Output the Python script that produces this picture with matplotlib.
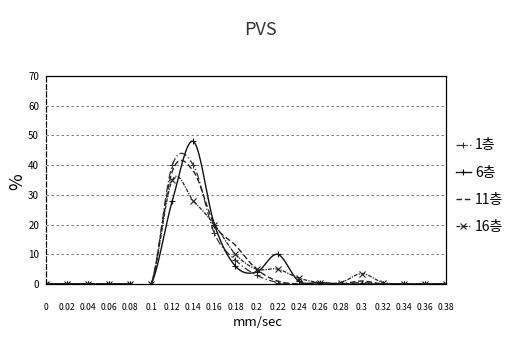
import numpy as np
import matplotlib
matplotlib.use("Agg")
import matplotlib.pyplot as plt

plt.rcParams['font.family'] = ['Noto Sans CJK KR', 'DejaVu Sans']

categories = ["0", "0.02", "0.04", "0.06", "0.08", "0.1", "0.12", "0.14", "0.16", "0.18",
              "0.2", "0.22", "0.24", "0.26", "0.28", "0.3", "0.32", "0.34", "0.36", "0.38"]
floor1 = [0, 0, 0, 0, 0, 0, 40, 40, 17, 8, 3, 0.5, 0, 0, 0, 0.5, 0, 0, 0, 0]
floor6 = [0, 0, 0, 0, 0, 0, 28, 48, 20, 6, 4, 10, 1, 0.5, 0, 0, 0, 0, 0, 0]
floor11 = [0, 0, 0, 0, 0, 0, 38, 38, 20, 13, 5, 1, 0, 0, 0, 1, 0, 0, 0, 0]
floor16 = [0, 0, 0, 0, 0, 0, 35, 28, 20, 10, 5, 5, 2, 0.5, 0.5, 3.5, 0.5, 0, 0, 0]
series_names = ["1층", "6층", "11층", "16층"]
yticks = [0, 10, 20, 30, 40, 50, 60, 70]

N = 12


def smooth(y):
    y = np.asarray(y, float)
    p = np.concatenate([[y[0]], y, [y[-1]]])
    xs, ys = [], []
    for i in range(len(y) - 1):
        p0, p1, p2, p3 = p[i], p[i + 1], p[i + 2], p[i + 3]
        t = np.linspace(0, 1, N, endpoint=False)
        yy = 0.5 * ((2 * p1) + (-p0 + p2) * t + (2 * p0 - 5 * p1 + 4 * p2 - p3) * t ** 2
                    + (-p0 + 3 * p1 - 3 * p2 + p3) * t ** 3)
        xs.append(i + t)
        ys.append(yy)
    xs.append([len(y) - 1])
    ys.append([y[-1]])
    return np.concatenate(xs), np.concatenate(ys)


fig = plt.figure(figsize=(5.19, 3.47), dpi=100)
ax = fig.add_axes([46 / 519, 1 - 284 / 347, 400 / 519, 208 / 347])

styles = [
    dict(color="#333333", ls=(0, (6, 2, 1, 2)), lw=0.9, marker="+", ms=5),
    dict(color="#111111", ls="-", lw=1.0, marker="+", ms=5),
    dict(color="#222222", ls=(0, (4, 2)), lw=1.0, marker=None),
    dict(color="#222222", ls=(0, (3, 1, 1, 1)), lw=0.9, marker="x", ms=4),
]
data = [floor1, floor6, floor11, floor16]
for vals, name, st in zip(data, series_names, styles):
    xs, ys = smooth(vals)
    ax.plot(xs, ys, color=st["color"], ls=st["ls"], lw=st["lw"],
            marker=st["marker"], ms=st.get("ms", 4), markevery=slice(0, None, N),
            mew=0.8, label=name)

ax.set_xlim(0, len(categories) - 1)
ax.set_ylim(0, 70)
ax.set_yticks(yticks)
ax.set_yticklabels([str(v) for v in yticks], fontsize=7)
ax.set_xticks(range(len(categories)))
ax.set_xticklabels(categories, fontsize=6.2)
ax.tick_params(axis="x", length=0, pad=14)
ax.tick_params(axis="y", length=0, pad=5)
ax.yaxis.grid(True, color="#666666", ls=(0, (3, 3)), lw=0.6)
for s in ax.spines.values():
    s.set_color("black")
    s.set_linewidth(0.9)
ax.spines["left"].set_linestyle((0, (4, 2)))

fig.text(17 / 519, 1 - 182 / 347, "%", rotation=90, ha="center", va="center", fontsize=13)
fig.text(258 / 519, 1 - 322 / 347, "mm/sec", ha="center", va="center", fontsize=9.5)
fig.text(260 / 519, 1 - 30 / 347, "PVS", ha="center", va="center", fontsize=13, color="#333333")

ax.legend(loc="center left", bbox_to_anchor=(1.0, 0.47), frameon=False, fontsize=10,
          handlelength=1.1, handletextpad=0.3, labelspacing=0.95, borderpad=0.2)

fig.savefig("out.png", dpi=100)
